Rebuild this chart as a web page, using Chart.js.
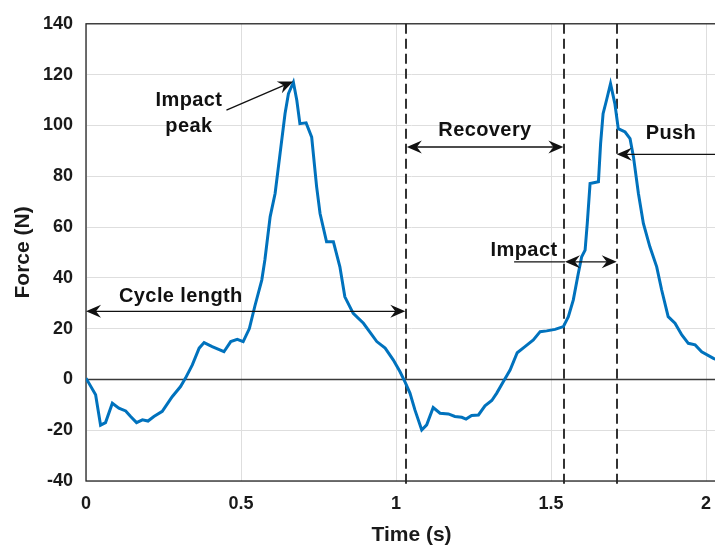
<!DOCTYPE html>
<html>
<head>
<meta charset="utf-8">
<script src="https://cdn.jsdelivr.net/npm/chart.js@4"></script>
<style>
html,body{margin:0;padding:0;background:#fff;overflow:hidden;}
#wrap{width:760px;height:548px;}
</style>
</head>
<body>
<div id="wrap"><canvas id="c" width="760" height="548"></canvas></div>
<script>
// ---- data ----
const timeS = [0,0.031,0.047,0.063,0.085,0.106,0.128,0.144,0.163,0.182,0.2,0.219,0.246,0.278,0.305,0.321,0.343,0.365,0.381,0.407,0.445,0.467,0.488,0.507,0.527,0.545,0.567,0.577,0.594,0.61,0.626,0.642,0.653,0.669,0.68,0.69,0.71,0.728,0.744,0.755,0.776,0.798,0.819,0.835,0.862,0.895,0.938,0.965,0.991,1.013,1.029,1.045,1.061,1.083,1.099,1.12,1.142,1.169,1.19,1.212,1.226,1.244,1.266,1.287,1.309,1.325,1.346,1.368,1.391,1.416,1.443,1.465,1.486,1.513,1.54,1.556,1.572,1.588,1.599,1.61,1.617,1.626,1.653,1.66,1.668,1.679,1.692,1.706,1.717,1.739,1.755,1.766,1.782,1.798,1.819,1.841,1.857,1.878,1.9,1.922,1.943,1.965,1.986,2.024,2.05];
const forceN = [0.5,-6,-18,-17,-9.4,-11.3,-12.4,-14.6,-17,-15.9,-16.4,-14.6,-12.6,-6.8,-2.8,0.5,5.7,12.3,14.5,12.9,10.9,14.9,15.8,14.9,20,29,39.1,47,64,73.2,88.9,104.6,112.5,117,109.9,100.7,101,95.4,75.8,65.3,54.2,54.2,44.3,32.5,26,22.1,14.9,12.3,7.7,3,-1,-5.4,-12,-19.9,-17.9,-11.1,-13.3,-13.6,-14.6,-14.9,-15.6,-14.2,-14,-10.4,-8.3,-5.4,-0.9,3.7,10.5,12.9,15.5,18.8,19.1,19.7,20.8,24.7,31.3,41.7,48.3,50.9,61.4,77.1,77.8,92.8,104.6,109.9,116.4,108.6,98.7,97.4,94.8,87.6,73.2,61.4,52.2,44.3,35.2,24.7,22.1,17.5,14.2,13.6,10.9,8.3,7];
const xTickValues = [0,0.5,1,1.5,2];
const yTickValues = [-40,-20,0,20,40,60,80,100,120,140];
const phaseLines = [1.032,1.543,1.712];
// double-headed arrows: [xStart, xEnd, y]
const arrowCycle = [0,1.03,26.8];
const arrowRecovery = [1.035,1.54,91.5];
const arrowPush = [1.712,2.1,88.6];
const arrowImpact = [1.545,1.712,46.3];
const impactLeadLine = [1.381,1.545,46.3];
// single arrow [x0,y0,x1,y1]
const arrowPeak = [0.453,106,0.668,117.3];
// labels [text, x, y]
const labelTexts = ['Cycle length','Impact','peak','Recovery','Push','Impact'];
const labelX = [0.306,0.332,0.332,1.287,1.887,1.413];
const labelY = [32.5,109.9,99.4,98.1,96.9,50.6];

const FONT = "'Liberation Sans', Arial, Helvetica, sans-serif";

function head(ctx, x, y, dir) {
  ctx.save();
  ctx.translate(x, y);
  ctx.rotate(dir);
  ctx.beginPath();
  ctx.moveTo(0,0);
  ctx.lineTo(-15,-6.5);
  ctx.lineTo(-10,0);
  ctx.lineTo(-15,6.5);
  ctx.closePath();
  ctx.fill();
  ctx.restore();
}

const annot = {
  id: 'annot',
  beforeDatasetsDraw(chart) {
    const {ctx, chartArea: a, scales: {x, y}} = chart;
    ctx.save();
    ctx.strokeStyle = '#3a3a3a';
    ctx.lineWidth = 1.5;
    ctx.beginPath();
    ctx.moveTo(a.left, y.getPixelForValue(0));
    ctx.lineTo(a.right, y.getPixelForValue(0));
    ctx.stroke();
    ctx.strokeStyle = '#333';
    ctx.lineWidth = 2;
    ctx.setLineDash([10,5]);
    phaseLines.forEach(v => {
      const px = Math.round(x.getPixelForValue(v));
      ctx.beginPath();
      ctx.moveTo(px, a.top);
      ctx.lineTo(px, a.bottom + 6);
      ctx.stroke();
    });
    ctx.setLineDash([]);
    ctx.strokeStyle = '#262626';
    ctx.lineWidth = 1.3;
    ctx.strokeRect(a.left, a.top, a.right - a.left, a.bottom - a.top);
    ctx.restore();
  },
  afterDatasetsDraw(chart) {
    const {ctx, scales: {x, y}} = chart;
    ctx.save();
    ctx.strokeStyle = '#111';
    ctx.fillStyle = '#111';
    ctx.lineWidth = 1.3;
    function dbl(arr) {
      const x0 = x.getPixelForValue(arr[0]), x1 = x.getPixelForValue(arr[1]), py = y.getPixelForValue(arr[2]);
      ctx.beginPath(); ctx.moveTo(x0 + 8, py); ctx.lineTo(x1 - 8, py); ctx.stroke();
      head(ctx, x0, py, Math.PI);
      head(ctx, x1, py, 0);
    }
    dbl(arrowCycle); dbl(arrowRecovery); dbl(arrowPush); dbl(arrowImpact);
    {
      const py = y.getPixelForValue(impactLeadLine[2]);
      ctx.beginPath();
      ctx.moveTo(x.getPixelForValue(impactLeadLine[0]), py);
      ctx.lineTo(x.getPixelForValue(impactLeadLine[1]), py);
      ctx.stroke();
    }
    {
      const x0 = x.getPixelForValue(arrowPeak[0]), y0 = y.getPixelForValue(arrowPeak[1]);
      const x1 = x.getPixelForValue(arrowPeak[2]), y1 = y.getPixelForValue(arrowPeak[3]);
      const ang = Math.atan2(y1 - y0, x1 - x0);
      ctx.beginPath(); ctx.moveTo(x0, y0);
      ctx.lineTo(x1 - 10*Math.cos(ang), y1 - 10*Math.sin(ang)); ctx.stroke();
      head(ctx, x1, y1, ang);
    }
    ctx.fillStyle = '#111';
    ctx.font = "bold 20px " + FONT;
    try { ctx.letterSpacing = '0.4px'; } catch (e) {}
    ctx.textAlign = 'center';
    ctx.textBaseline = 'middle';
    labelTexts.forEach((t, i) => {
      ctx.fillText(t, x.getPixelForValue(labelX[i]), y.getPixelForValue(labelY[i]));
    });
    ctx.restore();
  }
};

new Chart(document.getElementById('c'), {
  type: 'scatter',
  data: {
    datasets: [{
      data: timeS.map((t, i) => ({x: t, y: forceN[i]})),
      showLine: true,
      borderColor: '#0072BD',
      borderWidth: 3,
      pointRadius: 0,
      tension: 0,
      fill: false
    }]
  },
  options: {
    responsive: false,
    animation: false,
    layout: {padding: {top: 23, right: 23, left: 0, bottom: 0}},
    plugins: {legend: {display: false}, tooltip: {enabled: false}},
    scales: {
      x: {
        type: 'linear',
        min: 0, max: 2.1,
        afterBuildTicks: s => { s.ticks = xTickValues.map(v => ({value: v})); },
        afterFit: s => { s.height = 67; },
        border: {display: false},
        grid: {color: '#dedede', lineWidth: 1, drawTicks: false},
        ticks: {padding: 12, color: '#1a1a1a', font: {family: FONT, size: 18, weight: 'bold'}, maxRotation: 0, callback: v => String(+v)},
        title: {display: true, text: 'Time (s)', color: '#1a1a1a', padding: {top: -1, bottom: 0}, font: {family: FONT, size: 21, weight: 'bold', lineHeight: 1.2}}
      },
      y: {
        type: 'linear',
        min: -40, max: 140,
        afterBuildTicks: s => { s.ticks = yTickValues.map(v => ({value: v})); },
        afterFit: s => { s.width = 86; },
        border: {display: false},
        grid: {color: '#dedede', lineWidth: 1, drawTicks: false},
        ticks: {padding: 13, color: '#1a1a1a', font: {family: FONT, size: 18, weight: 'bold'}, callback: v => String(+v)},
        title: {display: true, text: 'Force (N)', color: '#1a1a1a', padding: {top: 11, bottom: 0}, font: {family: FONT, size: 21, weight: 'bold', lineHeight: 1.2}}
      }
    }
  },
  plugins: [annot]
});
</script>
</body>
</html>
